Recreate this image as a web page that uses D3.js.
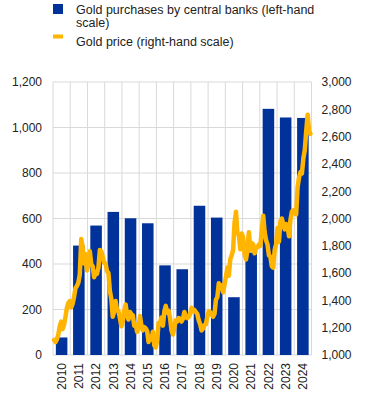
<!DOCTYPE html>
<html lang="en">
<head>
<meta charset="utf-8">
<title>Gold purchases and gold price</title>
<script src="https://cdn.jsdelivr.net/npm/d3@7"></script>
<style>
  body { margin: 0; background: #fff; }
  text { font-family: "Liberation Sans", Arial, sans-serif; fill: #222; }
</style>
</head>
<body>
<script>
// categories (years) and annual central bank purchases, tonnes
const years = ["2010","2011","2012","2013","2014","2015","2016","2017","2018","2019","2020","2021","2022","2023","2024"];
const purchases = [77, 481, 569, 629, 601, 579, 394, 377, 656, 604, 254, 450, 1082, 1044, 1042];

// gold price, USD/oz, one value per month Jan 2010 - Dec 2024
const price2010 = [1110, 1095, 1113, 1150, 1210, 1245, 1190, 1220, 1280, 1345, 1380, 1395];
const price2011 = [1350, 1375, 1425, 1490, 1505, 1530, 1590, 1850, 1790, 1670, 1740, 1620];
const price2012 = [1660, 1760, 1665, 1650, 1570, 1600, 1595, 1640, 1770, 1760, 1720, 1675];
const price2013 = [1670, 1615, 1600, 1470, 1410, 1280, 1320, 1395, 1330, 1320, 1270, 1210];
const price2014 = [1245, 1320, 1370, 1295, 1260, 1315, 1300, 1290, 1215, 1225, 1170, 1200];
const price2015 = [1285, 1215, 1180, 1205, 1195, 1175, 1095, 1135, 1115, 1170, 1070, 1055];
const price2016 = [1110, 1235, 1240, 1275, 1215, 1320, 1360, 1310, 1325, 1270, 1180, 1150];
const price2017 = [1205, 1255, 1245, 1270, 1265, 1245, 1265, 1315, 1280, 1270, 1280, 1300];
const price2018 = [1345, 1320, 1330, 1315, 1300, 1255, 1225, 1180, 1195, 1220, 1225, 1280];
const price2019 = [1320, 1315, 1295, 1280, 1300, 1405, 1425, 1525, 1490, 1510, 1460, 1515];
const price2020 = [1575, 1640, 1580, 1700, 1730, 1770, 1970, 2050, 1890, 1880, 1775, 1890];
const price2021 = [1860, 1740, 1700, 1770, 1900, 1770, 1820, 1810, 1745, 1785, 1790, 1810];
const price2022 = [1800, 1910, 2020, 1900, 1840, 1810, 1730, 1720, 1650, 1640, 1770, 1810];
const price2023 = [1930, 1830, 1980, 2000, 1960, 1920, 1960, 1940, 1870, 1990, 2050, 2060];
const price2024 = [2040, 2030, 2230, 2300, 2340, 2330, 2440, 2500, 2640, 2760, 2640, 2620];
const goldPrice = [].concat(price2010, price2011, price2012, price2013, price2014,
  price2015, price2016, price2017, price2018, price2019, price2020, price2021,
  price2022, price2023, price2024);

const leftTicks = [0, 200, 400, 600, 800, 1000, 1200];
const rightTicks = [1000, 1200, 1400, 1600, 1800, 2000, 2200, 2400, 2600, 2800, 3000];

const W = 373, H = 405;
const x0 = 53, x1 = 311.5, yTop = 82, yBot = 355;
const blue = "#003299", gold = "#ffb400", grid = "#d9d9d9";

const svg = d3.select("body").append("svg")
  .attr("width", W).attr("height", H);

const x = d3.scaleBand().domain(years).range([x0, x1])
  .paddingInner(0.33).paddingOuter(0.165);
const xEdge = d3.scaleLinear().domain([0, years.length]).range([x0, x1]);
const yL = d3.scaleLinear().domain([0, 1200]).range([yBot, yTop]);
const yR = d3.scaleLinear().domain([1000, 3000]).range([yBot, yTop]);
const xLine = d3.scaleLinear().domain([0, goldPrice.length - 1]).range([x0 + 1, x1 - 1]);

// grid
svg.append("g").selectAll("line.h").data(leftTicks).enter().append("line")
  .attr("x1", x0).attr("x2", x1)
  .attr("y1", d => yL(d)).attr("y2", d => yL(d))
  .attr("stroke", grid).attr("stroke-width", 1);
svg.append("g").selectAll("line.v").data(d3.range(years.length + 1)).enter().append("line")
  .attr("x1", d => xEdge(d)).attr("x2", d => xEdge(d))
  .attr("y1", yTop).attr("y2", yBot)
  .attr("stroke", grid).attr("stroke-width", 1);

// bars
svg.append("g").selectAll("rect").data(purchases).enter().append("rect")
  .attr("x", (d, i) => x(years[i]))
  .attr("width", x.bandwidth())
  .attr("y", d => yL(d))
  .attr("height", d => yBot - yL(d))
  .attr("fill", blue);

// price line
const line = d3.line()
  .x((d, i) => xLine(i))
  .y(d => yR(d));
svg.append("path").datum(goldPrice)
  .attr("d", line)
  .attr("fill", "none")
  .attr("stroke", gold)
  .attr("stroke-width", 4.5)
  .attr("stroke-linejoin", "round")
  .attr("stroke-linecap", "round");

// axes
const fmt = d3.format(",");
const axL = d3.axisLeft(yL).tickValues(leftTicks).tickFormat(fmt).tickSize(0).tickPadding(11);
const gL = svg.append("g").attr("transform", `translate(${x0},0)`).call(axL);
const axR = d3.axisRight(yR).tickValues(rightTicks).tickFormat(fmt).tickSize(0).tickPadding(10);
const gR = svg.append("g").attr("transform", `translate(${x1},0)`).call(axR);
[gL, gR].forEach(g => {
  g.select(".domain").remove();
  g.selectAll("text").attr("font-size", 12)
    .attr("font-family", "'Liberation Sans', Arial, sans-serif").attr("fill", "#222");
});

svg.append("g").selectAll("text").data(years).enter().append("text")
  .attr("transform", d => `translate(${x(d) + x.bandwidth() / 2},${yBot + 8}) rotate(-90)`)
  .attr("text-anchor", "end")
  .attr("dy", "0.35em")
  .attr("font-size", 12)
  .text(d => d);

// legend
const lg = svg.append("g");
lg.append("rect").attr("x", 53).attr("y", 4).attr("width", 10).attr("height", 10).attr("fill", blue);
lg.append("text").attr("x", 76).attr("y", 14).attr("font-size", 12.5)
  .text("Gold purchases by central banks (left-hand");
lg.append("text").attr("x", 76).attr("y", 27).attr("font-size", 12.5).text("scale)");
lg.append("rect").attr("x", 53).attr("y", 34.5).attr("width", 10).attr("height", 4).attr("fill", gold);
lg.append("text").attr("x", 76).attr("y", 45.5).attr("font-size", 12.5)
  .text("Gold price (right-hand scale)");
</script>
</body>
</html>
